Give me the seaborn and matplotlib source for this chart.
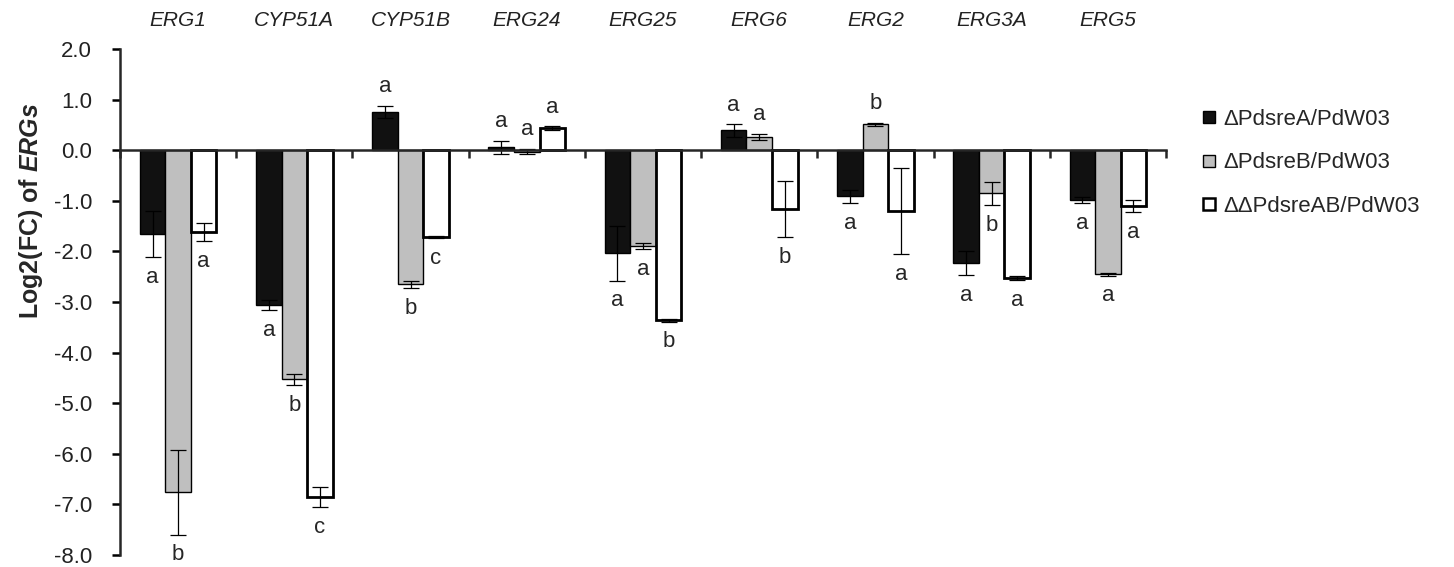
import numpy as np
import pandas as pd
import matplotlib
matplotlib.use("Agg")
import matplotlib.pyplot as plt
from matplotlib.lines import Line2D
import seaborn as sns

# ---- datos ----
genes = ["ERG1", "CYP51A", "CYP51B", "ERG24", "ERG25", "ERG6", "ERG2", "ERG3A", "ERG5"]
strains = ["ΔPdsreA/PdW03", "ΔPdsreB/PdW03", "ΔΔPdsreAB/PdW03"]

sreA_mean = [-1.66, -3.06, 0.75, 0.06, -2.04, 0.39, -0.91, -2.23, -0.99]
sreA_err = [0.45, 0.10, 0.12, 0.13, 0.54, 0.12, 0.13, 0.24, 0.06]
sreA_sig = ["a", "a", "a", "a", "a", "a", "a", "a", "a"]

sreB_mean = [-6.76, -4.53, -2.65, -0.03, -1.89, 0.26, 0.51, -0.85, -2.45]
sreB_err = [0.84, 0.11, 0.07, 0.05, 0.06, 0.06, 0.03, 0.23, 0.03]
sreB_sig = ["b", "b", "b", "a", "a", "a", "b", "b", "a"]

sreAB_mean = [-1.62, -6.86, -1.72, 0.43, -3.36, -1.16, -1.21, -2.53, -1.11]
sreAB_err = [0.18, 0.20, 0.02, 0.04, 0.03, 0.56, 0.85, 0.04, 0.12]
sreAB_sig = ["a", "c", "c", "a", "b", "b", "a", "a", "a"]

means = [sreA_mean, sreB_mean, sreAB_mean]
errs = [sreA_err, sreB_err, sreAB_err]
sigs = [sreA_sig, sreB_sig, sreAB_sig]

df = pd.DataFrame({
    "gen": genes * 3,
    "cepa": [s for s in strains for _ in genes],
    "log2fc": sreA_mean + sreB_mean + sreAB_mean,
})

sns.set_style("ticks")
plt.rcParams["font.family"] = ["Liberation Sans", "DejaVu Sans"]
plt.rcParams["mathtext.fontset"] = "custom"
plt.rcParams["mathtext.rm"] = "Liberation Sans"
plt.rcParams["mathtext.it"] = "Liberation Sans:italic"
plt.rcParams["mathtext.bf"] = "Liberation Sans:bold"
plt.rcParams["mathtext.bfit"] = "Liberation Sans:italic:bold"

colores = ["#111111", "#bfbfbf", "#ffffff"]
bordes = [1.0, 1.0, 2.0]

fig = plt.figure(figsize=(14.54, 5.67), dpi=100)
ax = fig.add_axes([120 / 1454, 1 - 555 / 567, 1046 / 1454, 506 / 567])

sns.barplot(data=df, x="gen", y="log2fc", hue="cepa", order=genes, hue_order=strains,
            palette=colores, saturation=1, width=0.66, errorbar=None,
            edgecolor="black", legend=False, ax=ax)

barras = list(ax.containers)
for i, cont in enumerate(barras):
    for j, bar in enumerate(cont):
        bar.set_linewidth(bordes[i])
        bar.set_edgecolor("black")
        xc = bar.get_x() + bar.get_width() / 2
        m, e = means[i][j], errs[i][j]
        ax.errorbar(xc, m, yerr=e, fmt="none", ecolor="black", elinewidth=0.9,
                    capsize=6, capthick=0.9, zorder=3)
        if m > -0.1:
            ax.text(xc, m + e + 0.38, sigs[i][j], ha="center", va="center", fontsize=16)
        else:
            ax.text(xc, m - e - 0.40, sigs[i][j], ha="center", va="center", fontsize=16)

ax.set_xlim(-0.5, len(genes) - 0.5)
ax.set_ylim(-8, 2)
ax.set_yticks(np.arange(-8, 2.1, 1))
ax.set_yticklabels([f"{v:.1f}" for v in np.arange(-8, 2.1, 1)], fontsize=16)

ax.spines["bottom"].set_position(("data", 0))
ax.spines["bottom"].set_linewidth(1.8)
ax.spines["left"].set_linewidth(1.8)
ax.spines["top"].set_visible(False)
ax.spines["right"].set_visible(False)
ax.spines["bottom"].set_zorder(4)

ax.set_xticks(range(len(genes)))
ax.set_xticklabels(genes, fontstyle="italic", fontsize=15, color="#222222")
ax.set_xticks(np.arange(-0.5, len(genes), 1), minor=True)
ax.tick_params(axis="x", which="major", bottom=False, top=False,
               labelbottom=False, labeltop=True, pad=10)
ax.tick_params(axis="x", which="minor", bottom=True, direction="out", length=6, width=1.8)
ax.tick_params(axis="y", direction="out", length=6, width=1.8, pad=14, colors="black")
for t in ax.get_yticklabels():
    t.set_color("#222222")

ax.set_xlabel("")
ax.set_ylabel(r"Log2(FC) of $\mathbfit{ERGs}$", fontsize=18, fontweight="bold")
ax.yaxis.set_label_coords(-0.072, 0.68)

handles = [Line2D([], [], marker="s", linestyle="none", markersize=9,
                  markerfacecolor=c, markeredgecolor="black", markeredgewidth=w)
           for c, w in zip(colores, [1.0, 1.0, 1.8])]
fig.legend(handles, strains, loc="upper left", bbox_to_anchor=(1190 / 1454, 1 - 98 / 567),
           frameon=False, fontsize=16, handlelength=0.7, handletextpad=0.3,
           labelspacing=1.0, borderpad=0)

fig.savefig("out.png", dpi=100)
